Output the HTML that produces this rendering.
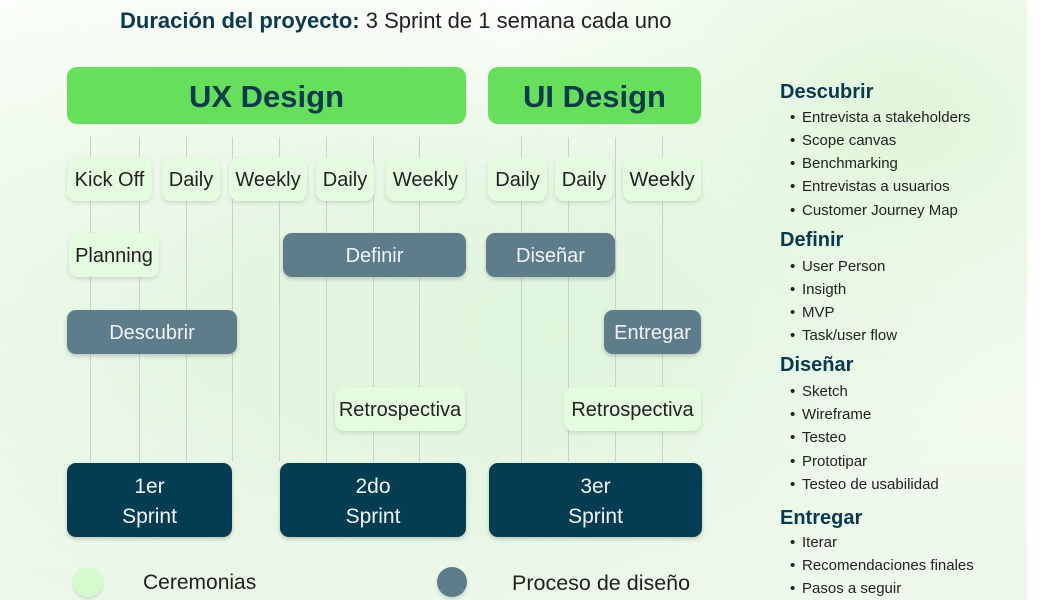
<!DOCTYPE html>
<html><head><meta charset="utf-8"><style>
*{margin:0;padding:0;box-sizing:border-box}
body{width:1060px;height:600px;overflow:hidden;font-family:"Liberation Sans",sans-serif;position:relative;
background:radial-gradient(ellipse 420px 300px at 560px 330px,#dff5dc 0%,rgba(223,245,220,0) 100%),
radial-gradient(ellipse 500px 380px at 250px 330px,#e3f5e0 0%,rgba(227,245,224,0) 100%),
radial-gradient(ellipse 400px 300px at 900px 120px,#e0f6da 0%,rgba(224,246,218,0) 100%),
linear-gradient(180deg,#fbfefa 0%,#eef8eb 100%);}
.r{position:absolute;top:0;right:0;width:33px;height:600px;background:#fff}
.b{position:absolute;display:flex;align-items:center;justify-content:center;border-radius:9px;text-align:center;padding-top:3px}
.c{background:#e4fbdf;color:#222;font-size:20px;box-shadow:0 2px 4px rgba(0,0,0,.12)}
.p{background:#5c7d89;color:#f0f4f5;font-size:20px;box-shadow:0 2px 4px rgba(0,0,0,.2)}
.s{background:#033d52;color:#f2f6f7;font-size:21px;line-height:30px;box-shadow:0 2px 4px rgba(0,0,0,.2)}
.h{background:#66e05a;color:#0a3a4e;font-size:31px;font-weight:bold;border-radius:10px}
.v{position:absolute;top:137px;height:325px;width:1px;background:#c9d3cc}
.t{position:absolute;left:780px;color:#073a4f;font-size:20px;font-weight:bold}
.i{position:absolute;left:790px;color:#222;font-size:15px}
.i:before{content:"•";position:absolute;left:0}
.i span{position:absolute;left:12px;white-space:nowrap}
</style></head><body>
<div class="r"></div>
<div style="position:absolute;left:120px;top:8px;font-size:22px;color:#0b3a4e;white-space:nowrap"><b>Duración del proyecto:</b> <span style="color:#222">3 Sprint de 1 semana cada uno</span></div>

<div class="v" style="left:90px"></div><div class="v" style="left:139px"></div><div class="v" style="left:186px"></div><div class="v" style="left:232px"></div><div class="v" style="left:279px"></div><div class="v" style="left:326px"></div><div class="v" style="left:373px"></div><div class="v" style="left:419px"></div>
<div class="v" style="left:521px"></div><div class="v" style="left:568px"></div><div class="v" style="left:615px"></div><div class="v" style="left:662px"></div>

<div class="b h" style="left:67px;top:67px;width:399px;height:57px">UX Design</div>
<div class="b h" style="left:488px;top:67px;width:213px;height:57px">UI Design</div>

<div class="b c" style="left:67px;top:157px;width:85px;height:44px">Kick Off</div>
<div class="b c" style="left:162px;top:157px;width:58px;height:44px">Daily</div>
<div class="b c" style="left:229px;top:157px;width:78px;height:44px">Weekly</div>
<div class="b c" style="left:316px;top:157px;width:58px;height:44px">Daily</div>
<div class="b c" style="left:386px;top:157px;width:79px;height:44px">Weekly</div>
<div class="b c" style="left:488px;top:157px;width:59px;height:44px">Daily</div>
<div class="b c" style="left:555px;top:157px;width:58px;height:44px">Daily</div>
<div class="b c" style="left:623px;top:157px;width:78px;height:44px">Weekly</div>

<div class="b c" style="left:69px;top:233px;width:90px;height:44px">Planning</div>
<div class="b p" style="left:283px;top:233px;width:183px;height:44px">Definir</div>
<div class="b p" style="left:486px;top:233px;width:129px;height:44px">Diseñar</div>
<div class="b p" style="left:67px;top:310px;width:170px;height:44px">Descubrir</div>
<div class="b p" style="left:604px;top:310px;width:97px;height:44px">Entregar</div>
<div class="b c" style="left:335px;top:387px;width:130px;height:44px">Retrospectiva</div>
<div class="b c" style="left:564px;top:387px;width:137px;height:44px">Retrospectiva</div>

<div class="b s" style="left:67px;top:463px;width:165px;height:74px">1er<br>Sprint</div>
<div class="b s" style="left:280px;top:463px;width:186px;height:74px">2do<br>Sprint</div>
<div class="b s" style="left:489px;top:463px;width:213px;height:74px">3er<br>Sprint</div>

<div style="position:absolute;left:73px;top:567px;width:30px;height:30px;border-radius:50%;background:#d3fbcc;box-shadow:0 2px 3px rgba(0,0,0,.12)"></div>
<div style="position:absolute;left:143px;top:571px;font-size:21px;color:#222">Ceremonias</div>
<div style="position:absolute;left:437px;top:567px;width:30px;height:30px;border-radius:50%;background:#5c7d89;box-shadow:0 2px 3px rgba(0,0,0,.15)"></div>
<div style="position:absolute;left:512px;top:571px;font-size:21.5px;color:#222">Proceso de diseño</div>

<div class="t" style="top:81px">Descubrir</div>
<div class="i" style="top:109px"><span>Entrevista a stakeholders</span></div>
<div class="i" style="top:132px"><span>Scope canvas</span></div>
<div class="i" style="top:155px"><span>Benchmarking</span></div>
<div class="i" style="top:178px"><span>Entrevistas a usuarios</span></div>
<div class="i" style="top:202px"><span>Customer Journey Map</span></div>
<div class="t" style="top:229px">Definir</div>
<div class="i" style="top:258px"><span>User Person</span></div>
<div class="i" style="top:281px"><span>Insigth</span></div>
<div class="i" style="top:304px"><span>MVP</span></div>
<div class="i" style="top:327px"><span>Task/user flow</span></div>
<div class="t" style="top:354px">Diseñar</div>
<div class="i" style="top:383px"><span>Sketch</span></div>
<div class="i" style="top:406px"><span>Wireframe</span></div>
<div class="i" style="top:429px"><span>Testeo</span></div>
<div class="i" style="top:453px"><span>Prototipar</span></div>
<div class="i" style="top:476px"><span>Testeo de usabilidad</span></div>
<div class="t" style="top:507px">Entregar</div>
<div class="i" style="top:534px"><span>Iterar</span></div>
<div class="i" style="top:557px"><span>Recomendaciones finales</span></div>
<div class="i" style="top:580px"><span>Pasos a seguir</span></div>
</body></html>
